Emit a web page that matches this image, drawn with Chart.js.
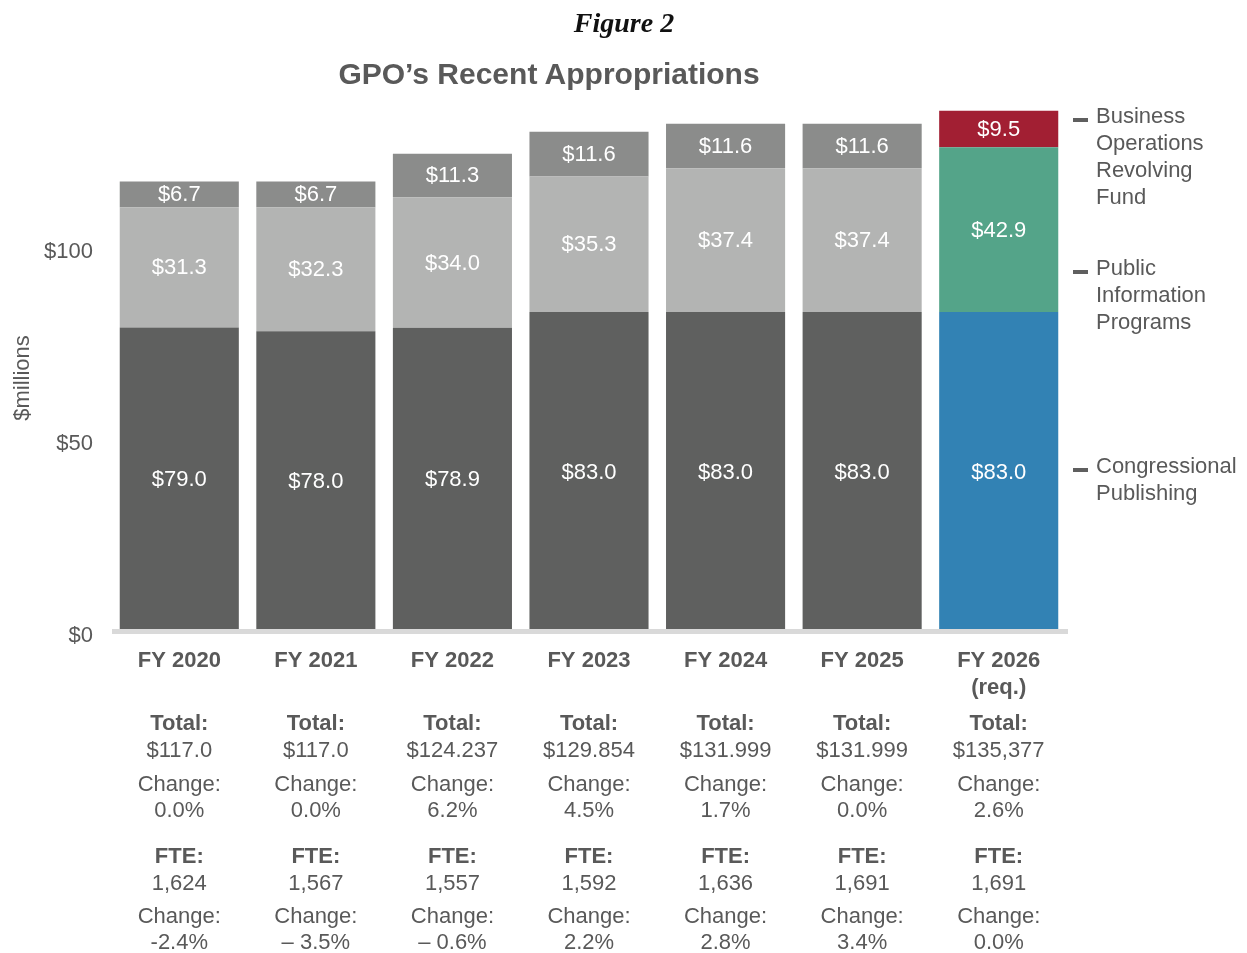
<!DOCTYPE html>
<html>
<head>
<meta charset="utf-8">
<script src="https://cdn.jsdelivr.net/npm/chart.js@4.4.1/dist/chart.umd.min.js"></script>
<style>
  html, body { margin: 0; padding: 0; background: #ffffff; }
  #wrap { position: relative; width: 1247px; height: 953px; overflow: hidden; }
  #c { position: absolute; left: 0; top: 0; }
  .ttl { position: absolute; white-space: nowrap; transform: translate(-50%, -50%); line-height: 1; }
  #fig { left: 624px; top: 23px; font: italic bold 28px "Liberation Serif", "DejaVu Serif", serif; color: #111111; }
  #main { left: 549px; top: 74px; font: bold 30px "Liberation Sans", Arial, sans-serif; color: #595959; }
</style>
</head>
<body>
<div id="wrap">
  <canvas id="c" width="1247" height="953"></canvas>
  <div class="ttl" id="fig">Figure 2</div>
  <div class="ttl" id="main">GPO’s Recent Appropriations</div>
</div>
<script>
// ---- data ----
const categories = [['FY 2020'], ['FY 2021'], ['FY 2022'], ['FY 2023'], ['FY 2024'], ['FY 2025'], ['FY 2026', '(req.)']];
const congressionalPublishing = [79.0, 78.0, 78.9, 83.0, 83.0, 83.0, 83.0];
const publicInformation = [31.3, 32.3, 34.0, 35.3, 37.4, 37.4, 42.9];
const businessOperations = [6.7, 6.7, 11.3, 11.6, 11.6, 11.6, 9.5];
const totals = ['$117.0', '$117.0', '$124.237', '$129.854', '$131.999', '$131.999', '$135,377'];
const totalChanges = ['0.0%', '0.0%', '6.2%', '4.5%', '1.7%', '0.0%', '2.6%'];
const fteCounts = ['1,624', '1,567', '1,557', '1,592', '1,636', '1,691', '1,691'];
const fteChanges = ['-2.4%', '– 3.5%', '– 0.6%', '2.2%', '2.8%', '3.4%', '0.0%'];
const yTickValues = [0, 50, 100];
const seriesNames = [
  ['Congressional', 'Publishing'],
  ['Public', 'Information', 'Programs'],
  ['Business', 'Operations', 'Revolving', 'Fund']
];

// ---- styling ----
const FONT = '"Liberation Sans", Arial, sans-serif';
const TEXT = '#595959';
const n = categories.length;
function colorsFor(gray, highlight) {
  return categories.map((_, i) => i === n - 1 ? highlight : gray);
}

const valueLabels = {
  id: 'valueLabels',
  afterDatasetsDraw(chart) {
    const ctx = chart.ctx;
    ctx.save();
    ctx.font = '22px ' + FONT;
    ctx.fillStyle = '#ffffff';
    ctx.textAlign = 'center';
    ctx.textBaseline = 'middle';
    chart.data.datasets.forEach((ds, di) => {
      const meta = chart.getDatasetMeta(di);
      meta.data.forEach((el, i) => {
        const y = (el.y + el.base) / 2;
        ctx.fillText('$' + ds.data[i].toFixed(1), el.x, y + 1);
      });
    });
    // baseline
    const ys = chart.scales.y;
    const y0 = ys.getPixelForValue(0);
    ctx.fillStyle = '#d9d9d9';
    ctx.fillRect(chart.chartArea.left + 1, y0 - 2, chart.chartArea.right - chart.chartArea.left, 5);
    ctx.restore();
  }
};

const extras = {
  id: 'extras',
  afterDraw(chart) {
    const ctx = chart.ctx;
    const xs = chart.scales.x;
    ctx.save();
    ctx.textAlign = 'center';
    ctx.textBaseline = 'middle';
    ctx.fillStyle = TEXT;
    const rows = [
      { y: 724, bold: true, get: () => 'Total:' },
      { y: 751, bold: false, get: i => totals[i] },
      { y: 785, bold: false, get: () => 'Change:' },
      { y: 811, bold: false, get: i => totalChanges[i] },
      { y: 857, bold: true, get: () => 'FTE:' },
      { y: 884, bold: false, get: i => fteCounts[i] },
      { y: 917, bold: false, get: () => 'Change:' },
      { y: 943, bold: false, get: i => fteChanges[i] }
    ];
    for (let i = 0; i < n; i++) {
      const x = xs.getPixelForValue(i);
      rows.forEach(r => {
        ctx.font = (r.bold ? 'bold ' : '') + '22px ' + FONT;
        ctx.fillText(r.get(i), x, r.y);
      });
    }
    // y axis title
    ctx.save();
    ctx.translate(23, 378);
    ctx.rotate(-Math.PI / 2);
    ctx.font = '22px ' + FONT;
    ctx.fillText('$millions', 0, 0);
    ctx.restore();
    // legend
    const legendY = [467, 269, 117];
    ctx.textAlign = 'left';
    ctx.font = '22px ' + FONT;
    seriesNames.forEach((lines, k) => {
      const y = legendY[k];
      ctx.fillStyle = '#5f5f5f';
      ctx.fillRect(1073, y + 1, 15, 4);
      ctx.fillStyle = TEXT;
      lines.forEach((t, j) => ctx.fillText(t, 1096, y + j * 27));
    });
    ctx.restore();
  }
};

new Chart(document.getElementById('c'), {
  type: 'bar',
  data: {
    labels: categories,
    datasets: [
      { label: 'Congressional Publishing', data: congressionalPublishing, backgroundColor: colorsFor('#5f605f', '#3282b4') },
      { label: 'Public Information Programs', data: publicInformation, backgroundColor: colorsFor('#b3b4b3', '#54a489') },
      { label: 'Business Operations Revolving Fund', data: businessOperations, backgroundColor: colorsFor('#8b8c8b', '#a21f33') }
    ]
  },
  options: {
    responsive: false,
    devicePixelRatio: 1,
    animation: false,
    categoryPercentage: 1.0,
    barPercentage: 0.872,
    layout: { padding: { top: 93, right: 180, left: 0, bottom: 0 } },
    plugins: { legend: { display: false }, tooltip: { enabled: false }, title: { display: false } },
    scales: {
      x: {
        stacked: true,
        grid: { display: false, drawTicks: false },
        border: { display: false },
        ticks: { color: TEXT, font: { family: FONT, size: 22, weight: 'bold' }, padding: 17, maxRotation: 0, autoSkip: false },
        afterFit: s => { s.height = 322; }
      },
      y: {
        stacked: true,
        min: 0,
        max: 140,
        grid: { display: false, drawTicks: false },
        border: { display: false },
        ticks: { color: TEXT, font: { family: FONT, size: 22 }, padding: 18, labelOffset: 5, callback: v => '$' + v },
        afterBuildTicks: s => { s.ticks = yTickValues.map(v => ({ value: v })); },
        afterFit: s => { s.width = 111; }
      }
    }
  },
  plugins: [valueLabels, extras]
});
</script>
</body>
</html>
